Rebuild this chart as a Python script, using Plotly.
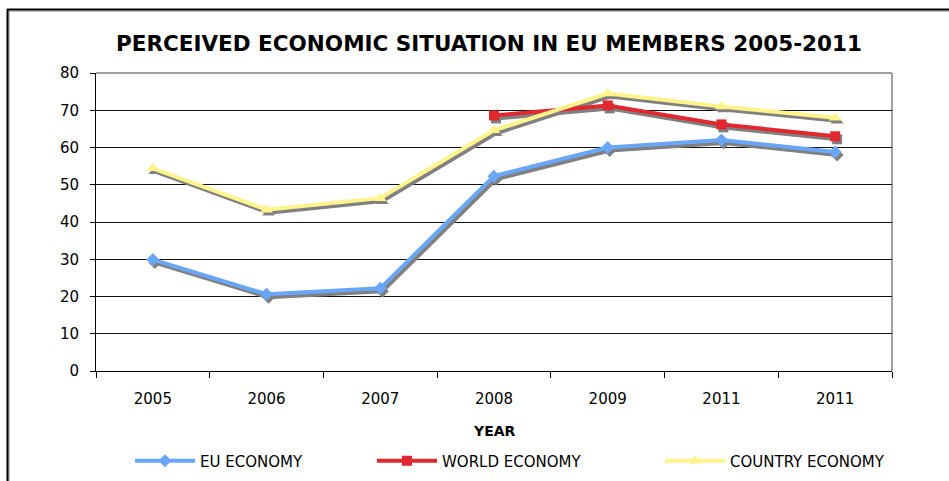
import plotly.graph_objects as go

# Survey years (the last period is labelled 2011 twice in the source table)
years = ["2005", "2006", "2007", "2008", "2009", "2011", "2011"]
eu_economy = [29.9, 20.6, 22.2, 52.3, 60.0, 62.0, 58.8]
world_economy = [None, None, None, 68.6, 71.3, 66.2, 63.0]
country_economy = [54.4, 43.3, 46.4, 64.6, 74.5, 71.0, 68.0]

W, H = 949, 481
positions = list(range(len(years)))

series = [
    ("EU ECONOMY", eu_economy, "#6aa6f8", "diamond", 10),
    ("WORLD ECONOMY", world_economy, "#e0282e", "square", 10),
    ("COUNTRY ECONOMY", country_economy, "#fff38c", "triangle-up", 11),
]

# plot area in pixels
PL, PR, PT, PB = 96, 892, 73, 371
# drop-shadow offset in pixels
SDX, SDY = 2, 3


def px_x(p):
    return p / W


def px_y(p):
    return 1 - p / H


fig = go.Figure()

# empty trace so the gridded base axes get drawn
fig.add_trace(go.Scatter(x=[None], y=[None], xaxis="x", yaxis="y",
                         showlegend=False, hoverinfo="skip"))

# grey drop shadows on a slightly shifted, hidden pair of axes
for name, vals, color, sym, size in series:
    fig.add_trace(go.Scatter(
        x=positions, y=vals, xaxis="x2", yaxis="y2", mode="lines+markers",
        line=dict(color="#808080", width=4),
        marker=dict(symbol=sym, size=size, color="#808080"),
        showlegend=False, hoverinfo="skip", connectgaps=False,
    ))

# the data lines themselves
legend_ids = ["legend", "legend2", "legend3"]
for (name, vals, color, sym, size), lg in zip(series, legend_ids):
    fig.add_trace(go.Scatter(
        x=positions, y=vals, xaxis="x3", yaxis="y3", mode="lines+markers", name=name,
        line=dict(color=color, width=4),
        marker=dict(symbol=sym, size=size, color=color),
        legend=lg, connectgaps=False,
    ))

xr = [-0.5, len(years) - 0.5]
yr = [0, 80]
dom_x = [px_x(PL), px_x(PR)]
dom_y = [px_y(PB), px_y(PT)]
dom_x_s = [px_x(PL + SDX), px_x(PR + SDX)]
dom_y_s = [px_y(PB + SDY), px_y(PT + SDY)]

font = "DejaVu Sans"

hidden = dict(visible=False, showgrid=False, zeroline=False, fixedrange=True)

fig.update_layout(
    width=W, height=H,
    margin=dict(l=0, r=0, t=0, b=0, autoexpand=False),
    paper_bgcolor="white",
    plot_bgcolor="rgba(0,0,0,0)",
    font=dict(family=font, size=15, color="black"),
    xaxis=dict(
        domain=dom_x, range=xr, anchor="y",
        tickmode="array", tickvals=positions, ticktext=years,
        ticks="", showgrid=False, zeroline=False,
        showline=True, linecolor="black", linewidth=1,
        ticklabelstandoff=14,
        minor=dict(tickmode="array", tickvals=[i - 0.5 for i in range(len(years) + 1)],
                   ticks="outside", ticklen=6, tickcolor="black", showgrid=False),
        tickfont=dict(size=15),
    ),
    yaxis=dict(
        domain=dom_y, range=yr, anchor="x",
        tick0=0, dtick=10, ticks="outside", ticklen=5, tickcolor="black",
        showgrid=True, gridcolor="#111111", gridwidth=1, zeroline=False,
        showline=True, linecolor="black", linewidth=1,
        ticklabelstandoff=8, tickfont=dict(size=15),
    ),
    xaxis2=dict(domain=dom_x_s, range=xr, anchor="y2", **hidden),
    yaxis2=dict(domain=dom_y_s, range=yr, anchor="x2", **hidden),
    xaxis3=dict(domain=dom_x, range=xr, anchor="y3", **hidden),
    yaxis3=dict(domain=dom_y, range=yr, anchor="x3", **hidden),
    showlegend=True,
)

legend_x = [130, 372, 660]
for lg, lx in zip(legend_ids, legend_x):
    fig.update_layout({lg: dict(
        x=px_x(lx), y=px_y(461), xanchor="left", yanchor="middle",
        orientation="h", bgcolor="rgba(0,0,0,0)", borderwidth=0,
        font=dict(family=font, size=15, color="black"),
        itemwidth=60,
    )})

# chart title and x-axis title
fig.add_annotation(
    x=px_x(489), y=px_y(43), xref="paper", yref="paper", showarrow=False,
    text="<b>PERCEIVED ECONOMIC SITUATION IN EU MEMBERS 2005-2011</b>",
    font=dict(family=font, size=21.5, color="black"), xanchor="center", yanchor="middle",
)
fig.add_annotation(
    x=px_x(494), y=px_y(431), xref="paper", yref="paper", showarrow=False,
    text="<b>YEAR</b>", font=dict(family=font, size=14, color="black"),
    xanchor="center", yanchor="middle",
)

# grey border on the top and right of the plot area
fig.add_shape(type="line", xref="paper", yref="paper",
              x0=px_x(PL), x1=px_x(PR), y0=px_y(PT), y1=px_y(PT),
              line=dict(color="#808080", width=1.5), layer="below")
fig.add_shape(type="line", xref="paper", yref="paper",
              x0=px_x(PR), x1=px_x(PR), y0=px_y(PT), y1=px_y(PB),
              line=dict(color="#808080", width=1.5), layer="below")

# outer chart frame (top and left edges)
fig.add_shape(type="line", xref="paper", yref="paper",
              x0=px_x(7), x1=1.0, y0=px_y(11), y1=px_y(11),
              line=dict(color="#888888", width=1))
fig.add_shape(type="line", xref="paper", yref="paper",
              x0=px_x(9), x1=px_x(9), y0=px_y(9), y1=0,
              line=dict(color="#888888", width=1))
fig.add_shape(type="line", xref="paper", yref="paper",
              x0=px_x(7), x1=1.0, y0=px_y(9.5), y1=px_y(9.5),
              line=dict(color="black", width=2))
fig.add_shape(type="line", xref="paper", yref="paper",
              x0=px_x(7.5), x1=px_x(7.5), y0=px_y(9), y1=0,
              line=dict(color="black", width=2))

fig.write_html("out.html")
